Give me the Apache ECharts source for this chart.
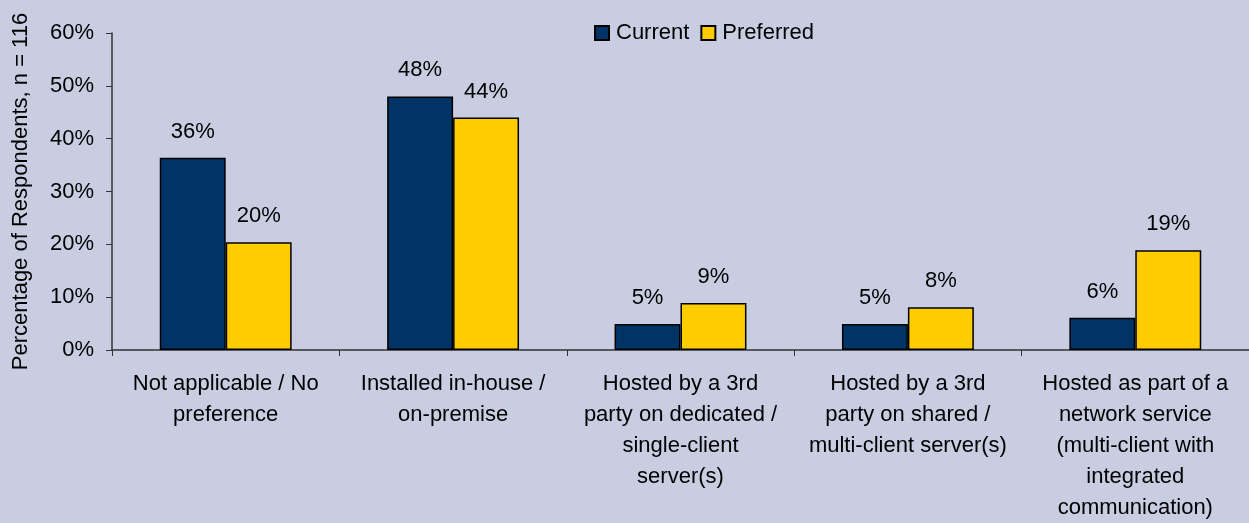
<!DOCTYPE html>
<html>
<head>
<meta charset="utf-8">
<script src="https://cdn.jsdelivr.net/npm/echarts@6/dist/echarts.min.js"></script>
<style>
html, body { margin: 0; padding: 0; background: #c9cde2; }
#chart { width: 1249px; height: 523px; }
</style>
</head>
<body>
<div id="chart"></div>
<script>
var categories = [
    'Not applicable / No\npreference',
    'Installed in-house /\non-premise',
    'Hosted by a 3rd\nparty on dedicated /\nsingle-client\nserver(s)',
    'Hosted by a 3rd\nparty on shared /\nmulti-client server(s)',
    'Hosted as part of a\nnetwork service\n(multi-client with\nintegrated\ncommunication)'
];
var currentVals = [36.4, 48, 4.9, 4.9, 6.1];
var preferredVals = [20.4, 44, 8.9, 8.1, 18.9];
var yTicks = [0, 10, 20, 30, 40, 50, 60];

var myChart = echarts.init(document.getElementById('chart'));

var fam = 'Liberation Sans, Arial, sans-serif';

function barLabel() {
    return {
        show: true,
        position: 'top',
        distance: 15,
        fontFamily: fam,
        fontSize: 22,
        color: '#000',
        formatter: function (p) { return Math.round(p.value) + '%'; }
    };
}

myChart.setOption({
    backgroundColor: '#c9cde2',
    animation: false,
    legend: {
        top: 17,
        left: 589,
        icon: 'rect',
        itemWidth: 14,
        itemHeight: 14,
        itemGap: 11,
        textStyle: { fontFamily: fam, fontSize: 22, color: '#000', padding: [0, 0, 0, 2] },
        data: ['Current', 'Preferred']
    },
    grid: { left: 112, right: 0, top: 33, bottom: 173 },
    xAxis: {
        type: 'category',
        data: categories,
        axisLine: { lineStyle: { color: '#333', width: 1.5 } },
        axisTick: { show: true, length: 6, lineStyle: { color: '#333' } },
        axisLabel: {
            fontFamily: fam, fontSize: 22, color: '#000',
            lineHeight: 31, margin: 18, interval: 0
        }
    },
    yAxis: {
        type: 'value',
        min: 0,
        max: 60,
        interval: 10,
        name: 'Percentage of Respondents, n = 116',
        nameLocation: 'middle',
        nameGap: 80,
        nameTextStyle: { fontFamily: fam, fontSize: 22, color: '#000' },
        axisLine: { show: true, lineStyle: { color: '#333', width: 1.5 } },
        axisTick: { show: true, length: 6, lineStyle: { color: '#333' } },
        splitLine: { show: false },
        axisLabel: {
            fontFamily: fam, fontSize: 22, color: '#000', margin: 18,
            formatter: function (v) { return yTicks.indexOf(v) >= 0 ? v + '%' : ''; }
        }
    },
    series: [{
        name: 'Current',
        type: 'bar',
        data: currentVals,
        barGap: '0%',
        barCategoryGap: '42%',
        itemStyle: { color: '#003366', borderColor: '#000', borderWidth: 1.5 },
        label: barLabel()
    }, {
        name: 'Preferred',
        type: 'bar',
        data: preferredVals,
        itemStyle: { color: '#ffcc00', borderColor: '#000', borderWidth: 1.5 },
        label: barLabel()
    }]
});
</script>
</body>
</html>
